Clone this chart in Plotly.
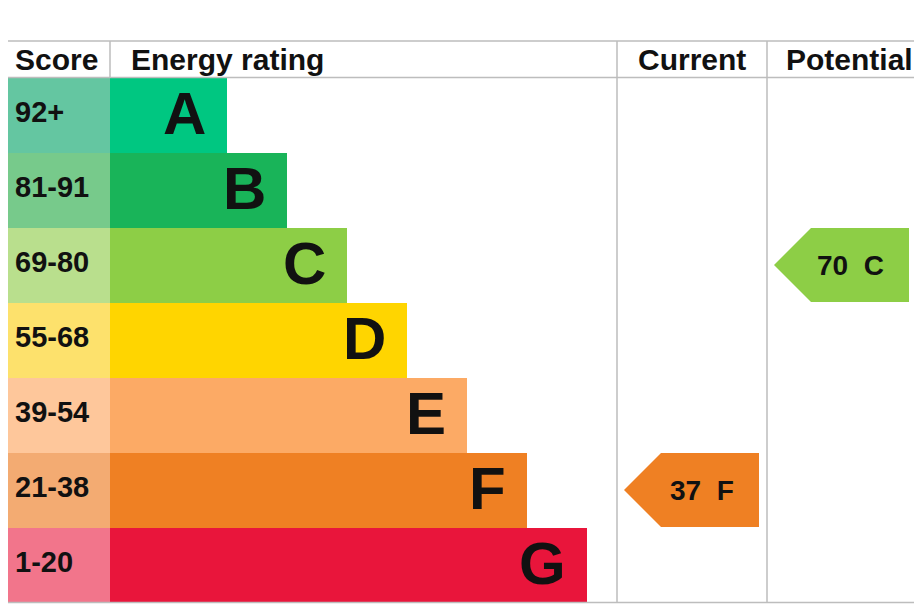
import plotly.graph_objects as go

# EPC bands, top (best) to bottom
bands = ["A", "B", "C", "D", "E", "F", "G"]
score_ranges = ["92+", "81-91", "69-80", "55-68", "39-54", "21-38", "1-20"]
band_lower = [92, 81, 69, 55, 39, 21, 1]
current_score = 37
potential_score = 70

band_colors = ["#00c781", "#19b459", "#8dce46", "#ffd500", "#fcaa65", "#ef8023", "#e9153b"]
score_colors = ["#64c6a1", "#77ca8b", "#b9df8d", "#fde16c", "#fec79b", "#f3ab72", "#f2758b"]

FONT = "Arial, Liberation Sans, sans-serif"
W, H = 922, 606
PAGE_OFF = 8  # default body margin of the html page
top, head_bot, row_h = 41, 77.5, 75
col_score, col_bar, col_cur, col_pot = 2.5, 110, 617, 767
grid = "#bdbdbd"


def band_of(v):
    for b, lo in zip(bands, band_lower):
        if v >= lo:
            return b
    return bands[-1]


centers = [head_bot + row_h * (i + 0.5) for i in range(len(bands))]
bar_ends = [227 + 60 * i for i in range(len(bands))]

fig = go.Figure()

# score column cells
fig.add_trace(go.Bar(
    y=centers, x=[col_bar - col_score] * len(bands), base=col_score,
    orientation="h", width=row_h, marker=dict(color=score_colors, line_width=0),
    hoverinfo="skip", showlegend=False,
))
# rating bars
fig.add_trace(go.Bar(
    y=centers, x=[e - col_bar for e in bar_ends], base=col_bar,
    orientation="h", width=row_h, marker=dict(color=band_colors, line_width=0),
    hoverinfo="skip", showlegend=False,
))

annotations = []
for i, (b, s) in enumerate(zip(bands, score_ranges)):
    annotations.append(dict(x=13, y=centers[i] - 3, text=s, xanchor="left", yanchor="middle",
                            showarrow=False, font=dict(family=FONT, size=29, color="#111", weight="bold")))
    annotations.append(dict(x=bar_ends[i] - 19, y=centers[i] - 2, text=b, xanchor="right", yanchor="middle",
                            showarrow=False, font=dict(family=FONT, size=60, color="#111", weight="bold")))


def arrow(value, col_left, col_right):
    b = band_of(value)
    i = bands.index(b)
    cy = centers[i]
    half = 37
    tip = col_left + 7
    right = col_right - 8
    xs = [tip, tip + half, right, right, tip + half, tip]
    ys = [cy, cy - half, cy - half, cy + half, cy + half, cy]
    fig.add_trace(go.Scatter(x=xs, y=ys, fill="toself", mode="lines", line=dict(width=0),
                             fillcolor=band_colors[i], hoverinfo="skip", showlegend=False))
    annotations.append(dict(x=right - 23, y=cy, text=f"{value}\u00a0\u00a0{b}", xanchor="right",
                            yanchor="middle", showarrow=False,
                            font=dict(family=FONT, size=28, color="#111", weight="bold")))


arrow(current_score, col_cur, col_cur + 150)
arrow(potential_score, col_pot, col_pot + 150)

# headers
hy = (top + head_bot) / 2
for txt, x, anchor in [("Score", 56, "center"), ("Energy rating", 129, "left"),
                       ("Current", 692, "center"), ("Potential", 849, "center")]:
    annotations.append(dict(x=x, y=hy, text=txt, xanchor=anchor, yanchor="middle", showarrow=False,
                            font=dict(family=FONT, size=30, color="#111", weight="bold")))

bottom = head_bot + row_h * len(bands)
shapes = [
    dict(type="line", x0=col_score, x1=W, y0=top, y1=top),
    dict(type="line", x0=col_score, x1=W, y0=head_bot, y1=head_bot),
    dict(type="line", x0=col_score, x1=W, y0=bottom, y1=bottom),
    dict(type="line", x0=col_score, x1=col_score, y0=top, y1=bottom),
    dict(type="line", x0=col_bar, x1=col_bar, y0=top, y1=head_bot),
    dict(type="line", x0=col_cur, x1=col_cur, y0=top, y1=bottom),
    dict(type="line", x0=col_pot, x1=col_pot, y0=top, y1=bottom),
]
for s in shapes:
    s["line"] = dict(color=grid, width=1.5)
    s["layer"] = "above"

fig.update_layout(
    width=W, height=H, margin=dict(l=0, r=0, t=0, b=0),
    paper_bgcolor="white", plot_bgcolor="white",
    xaxis=dict(range=[PAGE_OFF, W + PAGE_OFF], visible=False, fixedrange=True),
    yaxis=dict(range=[H + PAGE_OFF, PAGE_OFF], visible=False, fixedrange=True),
    annotations=annotations, shapes=shapes, bargap=0, barmode="overlay",
)

fig.write_html("out.html")
